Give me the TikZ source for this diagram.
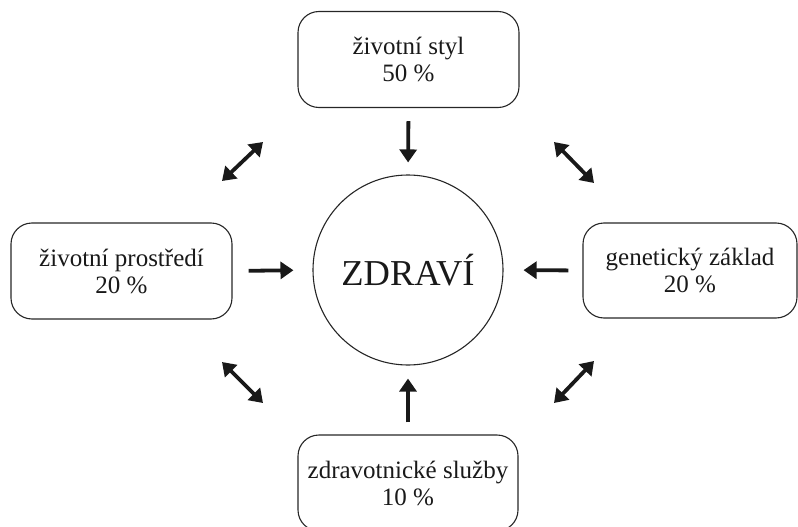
\documentclass[tikz,border=0pt]{standalone}
\usepackage{fontspec}
\setmainfont{Liberation Serif}
\usetikzlibrary{arrows.meta}
\begin{document}
\begin{tikzpicture}[x=1pt,y=-1pt,
  box/.style={draw=black!85, line width=1.1pt, rounded corners=21pt, align=center,
    font=\fontsize{25}{27}\selectfont, text=black!90, inner sep=0pt},
  bigarrow/.style={draw=black!90, line width=3.8pt, -{Triangle[length=13pt,width=17pt]}},
  dblarrow/.style={draw=black!90, line width=3.8pt, {Triangle[length=13pt,width=17pt]}-{Triangle[length=13pt,width=17pt]}}]
\useasboundingbox (0,0) rectangle (798,527);
\node[draw=black!85, line width=1.1pt, circle, minimum size=190pt, inner sep=0pt,
  font=\fontsize{36.5}{40}\selectfont, text=black!90] (c) at (408,270) {ZDRAVÍ};
\node[box, minimum width=221pt, minimum height=96pt] (top) at (408.5,59.5) {životní styl\\50 \%};
\node[box, minimum width=221pt, minimum height=96pt] (left) at (121.5,271) {životní prostředí\\20 \%};
\node[box, minimum width=214pt, minimum height=95pt] (right) at (690,270.5) {genetický základ\\20 \%};
\node[box, minimum width=220pt, minimum height=96pt] (bottom) at (408,483) {zdravotnické služby\\10 \%};
\draw[bigarrow, shorten <=13pt, shorten >=12pt] (top.south) -- (c.north);
\draw[bigarrow, shorten <=16pt, shorten >=19pt] (left.east) -- (c.west);
\draw[bigarrow, shorten <=14pt, shorten >=20pt] (right.west) -- (c.east);
\draw[bigarrow, shorten <=12pt, shorten >=13pt] (bottom.north) -- (c.south);
\coordinate (tl1) at (222,181); \coordinate (tl2) at (263,142);
\coordinate (tr1) at (554,142); \coordinate (tr2) at (594,183);
\coordinate (bl1) at (222,362); \coordinate (bl2) at (263,403);
\coordinate (br1) at (554,403); \coordinate (br2) at (594,361);
\draw[dblarrow] (tl1) -- (tl2);
\draw[dblarrow] (tr1) -- (tr2);
\draw[dblarrow] (bl1) -- (bl2);
\draw[dblarrow] (br1) -- (br2);
\end{tikzpicture}
\end{document}
